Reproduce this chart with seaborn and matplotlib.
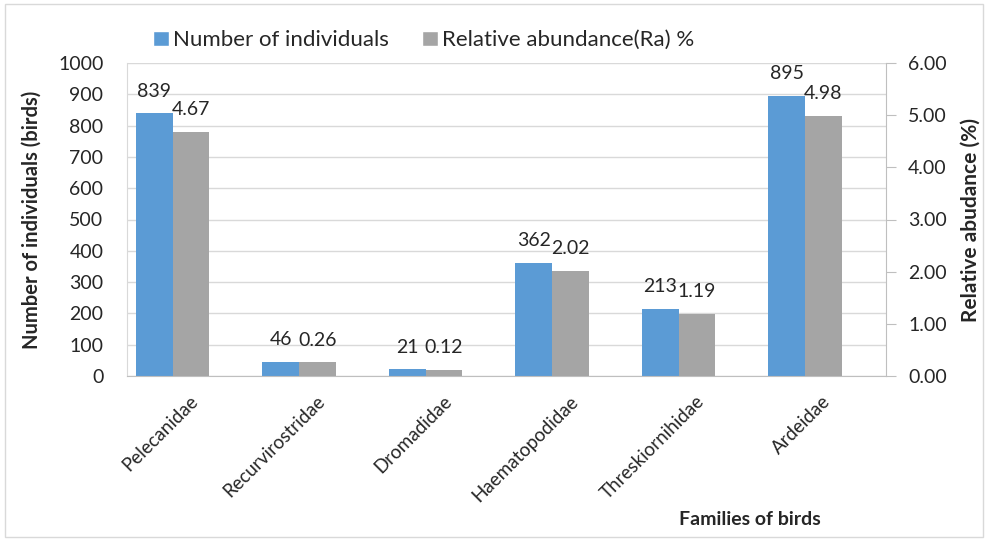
import pandas as pd
import seaborn as sns
from matplotlib import pyplot as plt
from matplotlib.patches import Patch, Rectangle
from matplotlib.transforms import ScaledTranslation

families = ["Pelecanidae", "Recurvirostridae", "Dromadidae",
            "Haematopodidae", "Threskiornihidae", "Ardeidae"]
individuals = [839, 46, 21, 362, 213, 895]
abundance = [4.67, 0.26, 0.12, 2.02, 1.19, 4.98]
series = ["Number of individuals", "Relative abundance(Ra) %"]

BLUE = "#5B9BD5"
GRAY = "#A5A5A5"
GRID = "#D9D9D9"

sns.set_style("white")
plt.rcParams["font.family"] = ["Lato", "DejaVu Sans"]

df_n = pd.DataFrame({"family": families, "value": individuals, "series": series[0]})
df_r = pd.DataFrame({"family": families, "value": abundance, "series": series[1]})

fig = plt.figure(figsize=(9.88, 5.42), dpi=100)
ax = fig.add_axes([127 / 988, 1 - 376 / 542, (886 - 127) / 988, (376 - 63) / 542])
ax2 = ax.twinx()

palette = {series[0]: BLUE, series[1]: GRAY}
sns.barplot(data=df_n, x="family", y="value", hue="series", hue_order=series,
            palette=palette, width=0.58, dodge=True, legend=False, ax=ax,
            saturation=1, order=families, linewidth=0)
sns.barplot(data=df_r, x="family", y="value", hue="series", hue_order=series,
            palette=palette, width=0.58, dodge=True, legend=False, ax=ax2,
            saturation=1, order=families, linewidth=0)

ax.set_ylim(0, 1000)
ax.set_yticks(range(0, 1001, 100))
ax2.set_ylim(0, 6)
ax2.set_yticks([0, 1, 2, 3, 4, 5, 6])
ax2.set_yticklabels([f"{v:.2f}" for v in range(7)])
ax.set_xlim(-0.36, 5.64)

ax.grid(axis="y", color=GRID, linewidth=1)
ax.set_axisbelow(True)
ax2.grid(False)

for a in (ax, ax2):
    for s in a.spines.values():
        s.set_visible(False)
ax.spines["left"].set_visible(True)
ax.spines["left"].set_color(GRID)
ax.spines["bottom"].set_visible(True)
ax.spines["bottom"].set_color("#BFBFBF")
ax2.spines["right"].set_visible(True)
ax2.spines["right"].set_color("#BFBFBF")

ax.tick_params(axis="y", length=0, labelsize=14, pad=17)
ax.tick_params(axis="x", length=0, labelsize=13.5, pad=12)
ax2.tick_params(axis="y", length=7, color="#BFBFBF", labelsize=14, pad=9)
shift = ScaledTranslation(0.17, 0, fig.dpi_scale_trans)
for lbl in ax.get_xticklabels():
    lbl.set_rotation(45)
    lbl.set_ha("right")
    lbl.set_rotation_mode("anchor")
    lbl.set_transform(lbl.get_transform() + shift)

for c in ax.containers:
    ax.bar_label(c, fmt="%d", padding=10, fontsize=14)
for c in ax2.containers:
    ax2.bar_label(c, fmt="%.2f", padding=10, fontsize=14)

ax.set_xlabel("Families of birds", fontsize=14, fontweight="bold")
ax.xaxis.set_label_coords(0.821, -0.43)
ax.set_ylabel("Number of individuals (birds)", fontsize=14.5, fontweight="bold")
ax.yaxis.set_label_coords(-0.112, 0.5)
ax2.set_ylabel("Relative abudance (%)", fontsize=15, fontweight="bold")
ax2.yaxis.set_label_coords(1.098, 0.5)

handles = [Patch(facecolor=BLUE, label=series[0]), Patch(facecolor=GRAY, label=series[1])]
fig.legend(handles=handles, loc="center", bbox_to_anchor=(0.429, 0.926), ncol=2,
           frameon=False, fontsize=16, handlelength=0.7, handleheight=0.7,
           handletextpad=0.2, columnspacing=1.5)

fig.patches.append(Rectangle((5 / 988, 5 / 542), 978 / 988, 533 / 542,
                             transform=fig.transFigure, fill=False,
                             edgecolor=GRID, linewidth=1))

fig.savefig("out.png", dpi=100)
